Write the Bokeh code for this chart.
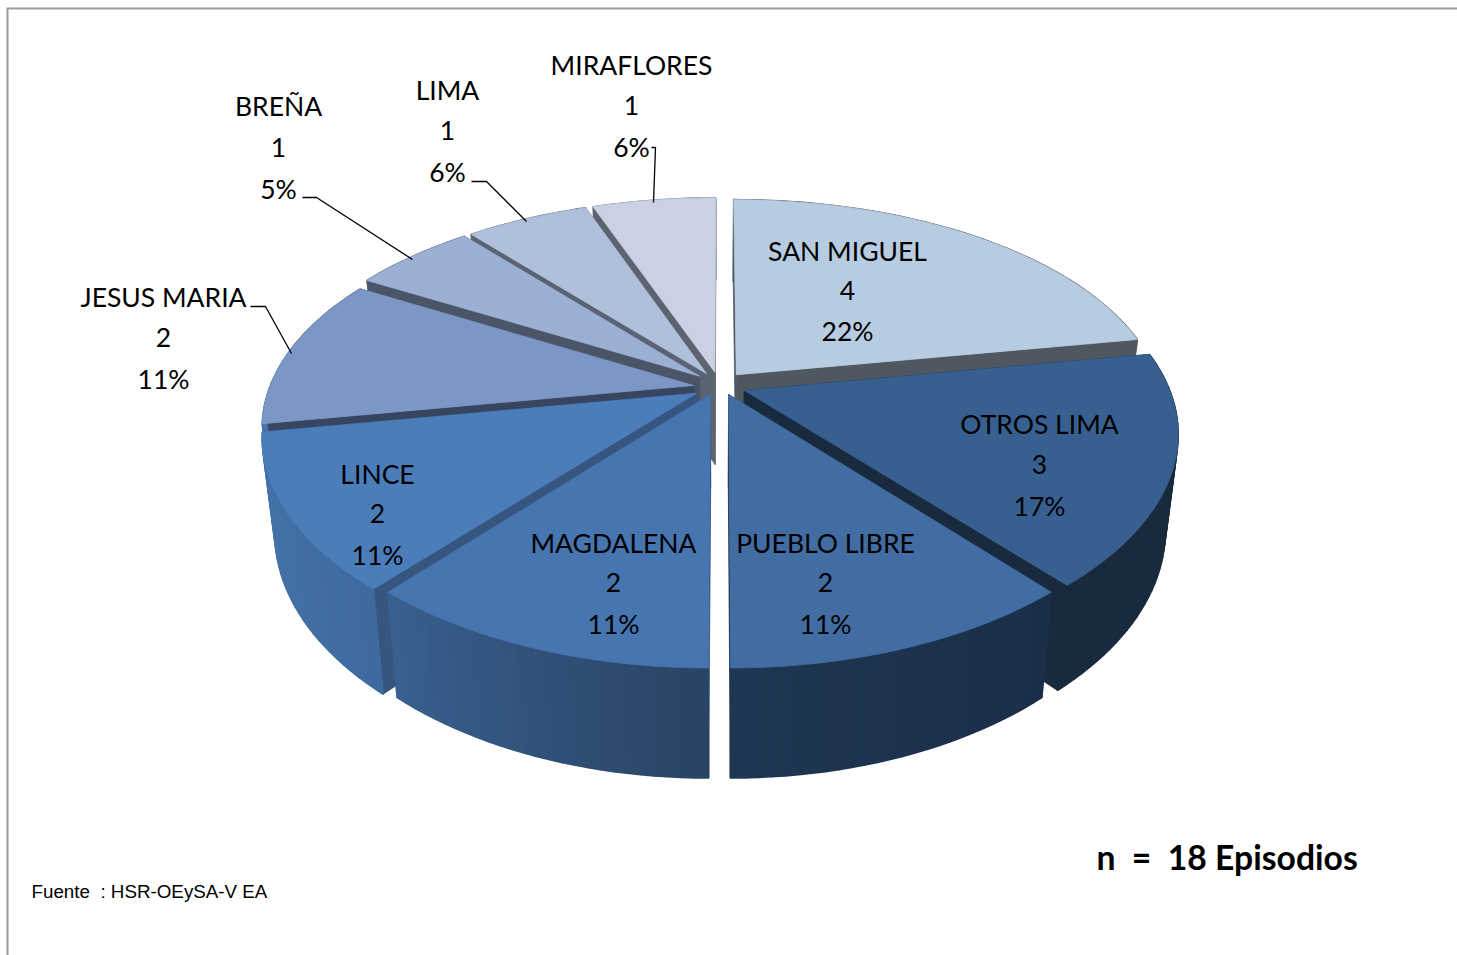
import math
from bokeh.plotting import figure
from bokeh.models import Range1d
from bokeh.core.properties import value
from bokeh.embed import file_html
from bokeh.resources import INLINE

# ---------- data ----------
categories = ["SAN MIGUEL", "OTROS LIMA", "PUEBLO LIBRE", "MAGDALENA", "LINCE",
              "JESUS MARIA", "BREÑA", "LIMA", "MIRAFLORES"]
episodes = [4, 3, 2, 2, 2, 2, 1, 1, 1]
percent_labels = ["22%", "17%", "11%", "11%", "11%", "11%", "5%", "6%", "6%"]
note_text = "n\u00a0\u00a0=\u00a0\u00a018 Episodios"
source_text = "Fuente\u00a0\u00a0: HSR-OEySA-V EA"

# ---------- styles ----------
top_colors = ["#B7CBE1", "#376090", "#416DA2", "#4675B0", "#4B7DBA",
              "#7C97C5", "#9BB0D2", "#B1C0DA", "#C9D1E2"]
radial_colors = ["#4F5860", "#1A2A3E", "#1C2F47", "#36567F", "#36567F",
                 "#384560", "#4B5568", "#5A6373", "#5C6470"]
rim_from = ["#4F5860", "#1A2A3E", "#1F3754", "#3A6191", "#4774AC",
            "#56698C", "#5A6D8C", "#6A7A94", "#7A8499"]
rim_to = ["#4F5860", "#1A2A3E", "#1B2E48", "#294465", "#3E6A9F",
          "#4774AC", "#56698C", "#5A6D8C", "#6A7A94"]
draw_order = [8, 7, 0, 6, 5, 1, 4, 3, 2]
drop_px = [0, 3, 0, 0, 4, 4, 0, 0, 0]

# ---------- pie geometry (perspective projection of a tilted disk) ----------
CX, CY, RX, RY, PERSP, PERSP_X = 719, 383, 424, 213.5, 0.201, 0.185
EXPLODE_X, EXPLODE_Y = 0.062, 0.054


def project(u, v):
    return CX + RX * u / (1 + PERSP_X * v), CY - RY * v / (1 + PERSP * v)


def lower(x, y):
    return CX + (x - CX) * 0.972, CY + (y - CY) * 1.06 + 93


def mix(c1, c2, t):
    a = [int(c1[i:i + 2], 16) for i in (1, 3, 5)]
    b = [int(c2[i:i + 2], 16) for i in (1, 3, 5)]
    return "#%02x%02x%02x" % tuple(round(p + (q - p) * t) for p, q in zip(a, b))


total = sum(episodes)
starts = []
acc = 0
for val in episodes:
    starts.append(acc / total * 2 * math.pi)
    acc += val

p = figure(width=1457, height=955, output_backend="svg", toolbar_location=None,
           x_range=Range1d(0, 1457), y_range=Range1d(955, 0),
           min_border=0, outline_line_color=None, background_fill_color="white")
p.axis.visible = False
p.grid.visible = False


def quad(pts, color, width=0.8):
    p.patch([q[0] for q in pts], [q[1] for q in pts], fill_color=color,
            line_color=color, line_width=width)


for i in draw_order:
    a0 = starts[i]
    a1 = a0 + episodes[i] / total * 2 * math.pi
    mid = (a0 + a1) / 2
    ou, ov = EXPLODE_X * math.sin(mid), EXPLODE_Y * math.cos(mid)
    n = max(4, int(math.degrees(a1 - a0) / 1.5))
    ax, ay = project(ou, ov)
    apex = (ax, ay + drop_px[i])
    rim = []
    for k in range(n + 1):
        ang = a0 + (a1 - a0) * k / n
        rx, ry = project(ou + math.sin(ang), ov + math.cos(ang))
        rim.append((rx, ry + drop_px[i]))
    faces = []
    for edge in (rim[0], rim[-1]):
        faces.append(((apex[1] + edge[1]) / 2, [apex, edge, lower(*edge), lower(*apex)], radial_colors[i], 0.8))
    for k in range(n):
        a, b = rim[k], rim[k + 1]
        t = k / n
        if 2 <= i <= 5:
            t = 1 - t
        faces.append(((a[1] + b[1]) / 2, [a, b, lower(*b), lower(*a)], mix(rim_from[i], rim_to[i], t), 1.6))
    for _, pts, color, w in sorted(faces, key=lambda f: f[0]):
        quad(pts, color, w)
    quad([apex] + rim, top_colors[i])

# ---------- frame ----------
p.line([7, 7], [8, 955], line_color="#9C9C9C", line_width=2)
p.line([6, 1457], [8, 8], line_color="#9C9C9C", line_width=2)

# ---------- leader lines ----------
leaders = {
    "MIRAFLORES": ([651, 655, 653], [147, 147, 202]),
    "LIMA": ([471, 486, 526], [181, 181, 221]),
    "BREÑA": ([302, 316, 412], [197, 197, 259]),
    "JESUS MARIA": ([250, 265, 291], [306, 306, 353]),
}
for xs, ys in leaders.values():
    p.line(xs, ys, line_color="black", line_width=1.3)

# ---------- labels ----------
label_pos = {
    "MIRAFLORES": (631, [66, 106, 148]),
    "LIMA": (447, [91, 131, 173]),
    "BREÑA": (278, [107, 148, 190]),
    "JESUS MARIA": (163, [298, 338, 380]),
    "SAN MIGUEL": (847, [252, 291, 332]),
    "OTROS LIMA": (1039, [425, 465, 507]),
    "LINCE": (377, [475, 514, 556]),
    "MAGDALENA": (613, [544, 583, 625]),
    "PUEBLO LIBRE": (825, [544, 583, 625]),
}
for cat, val, pct in zip(categories, episodes, percent_labels):
    lx, lys = label_pos[cat]
    p.text([lx] * 3, [y - 1.5 for y in lys], text=[cat, str(val), pct], text_font=value("Lato"),
           text_font_size="26.5px", text_color="#000000", text_align="center",
           text_baseline="middle")

p.text([1096], [856], text=[note_text], text_font=value("Lato"), text_font_size="33.7px",
       text_font_style="bold", text_color="#000000", text_align="left", text_baseline="middle")
p.text([31], [891], text=[source_text], text_font=value("Liberation Sans"), text_font_size="18.8px",
       text_color="#000000", text_align="left", text_baseline="middle")

open("out.html", "w").write(file_html(p, INLINE))
